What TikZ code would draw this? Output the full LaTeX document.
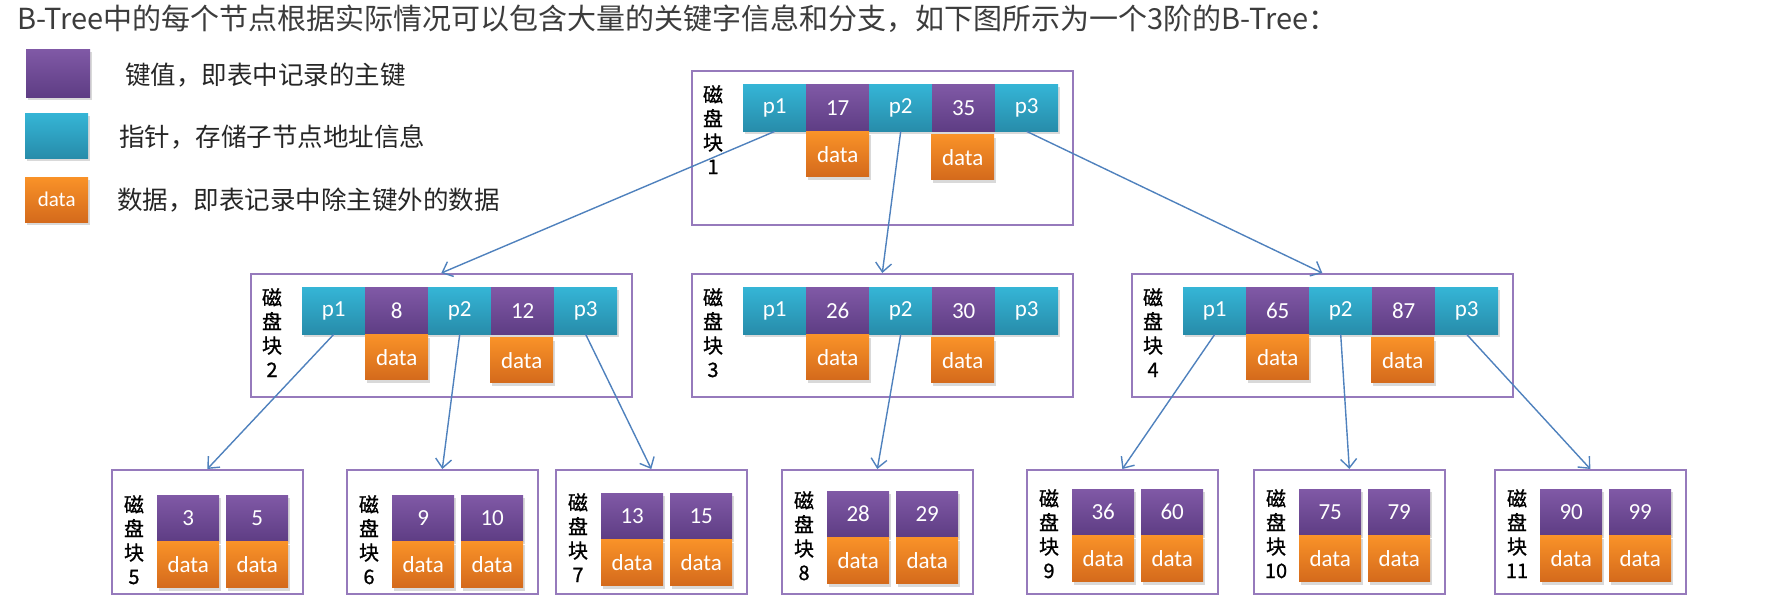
\documentclass[tikz,border=0pt]{standalone}
\usepackage{fontspec}
\setmainfont{Noto Sans CJK SC}
\newfontfamily\cellfont{Carlito}
\newfontface\labelfont{Noto Sans CJK SC}[FakeBold=1]
\usetikzlibrary{arrows.meta,shadows}

\definecolor{keytop}{RGB}{128,89,166}
\definecolor{keybot}{RGB}{94,61,132}
\definecolor{ptrtop}{RGB}{53,181,214}
\definecolor{ptrbot}{RGB}{39,140,170}
\definecolor{dattop}{RGB}{249,146,40}
\definecolor{datbot}{RGB}{212,106,28}
\definecolor{framecol}{RGB}{150,122,188}
\definecolor{linkcol}{RGB}{79,129,189}
\definecolor{titlecol}{RGB}{60,60,60}

\begin{document}
\begin{tikzpicture}[x=1pt,y=-1pt,
  cell/.style={inner sep=0pt, anchor=north west, minimum width=63pt, minimum height=47pt,
    text=white, font=\cellfont\fontsize{23}{26}\selectfont,
    drop shadow={opacity=0.3, shadow xshift=2pt, shadow yshift=-3pt}},
  keycell/.style={cell, top color=keytop, bottom color=keybot},
  ptrcell/.style={cell, top color=ptrtop, bottom color=ptrbot},
  datacell/.style={cell, top color=dattop, bottom color=datbot, minimum height=45pt},
  diskbox/.style={draw=framecol, line width=1.6pt, anchor=north west, inner sep=0pt},
  disklabel/.style={anchor=north, align=center, inner sep=0pt, font=\labelfont\fontsize{20}{24}\selectfont},
  legtext/.style={anchor=west, inner sep=0pt, text=black!85, font=\fontsize{25.5}{28}\selectfont},
  link/.style={draw=linkcol, line width=1.4pt, -{Straight Barb[length=9pt,width=16pt]}}
]
  \useasboundingbox (0,0) rectangle (1776,615);

  \node[anchor=base west, inner sep=0pt, text=titlecol, font=\fontsize{29}{34}\selectfont] (title) at (17,30)
    {B-Tree中的每个节点根据实际情况可以包含大量的关键字信息和分支，如下图所示为一个3阶的B-Tree：};

  % legend
  \node[keycell, minimum width=64pt, minimum height=48pt] (legkey) at (26,49) {};
  \node[ptrcell, minimum width=63pt, minimum height=45pt] (legptr) at (25,113) {};
  \node[datacell, minimum width=63pt, minimum height=45pt, font=\cellfont\fontsize{21}{24}\selectfont] (legdat) at (25,177) {data};
  \node[legtext] (legkeytxt) at (125,75) {键值，即表中记录的主键};
  \node[legtext] (legptrtxt) at (119,137) {指针，存储子节点地址信息};
  \node[legtext] (legdattxt) at (117,200) {数据，即表记录中除主键外的数据};

  % disk blocks with pointers
  \foreach \id/\x/\y/\h/\ka/\kb in {1/691/70/154/17/35, 2/250/273/123/8/12, 3/691/273/123/26/30, 4/1131/273/123/65/87}{
    \node[diskbox, minimum width=381pt, minimum height=\h pt] (blk\id) at (\x,\y) {};
    \node[disklabel] (lab\id) at (\x+22,\y+15) {磁\\盘\\块\\\id};
    \node[ptrcell] (b\id-p1) at (\x+52,\y+14) {p1};
    \node[keycell] (b\id-k1) at (\x+115,\y+14) {\ka};
    \node[ptrcell] (b\id-p2) at (\x+178,\y+14) {p2};
    \node[keycell] (b\id-k2) at (\x+241,\y+14) {\kb};
    \node[ptrcell] (b\id-p3) at (\x+304,\y+14) {p3};
    \node[datacell, anchor=north] (b\id-d1) at (b\id-k1.south) {data};
    \node[datacell, anchor=north] (b\id-d2) at ([xshift=-1pt,yshift=-3pt]b\id-k2.south) {data};
  }

  % leaf blocks
  \foreach \id/\x/\y/\ka/\kb in {5/111/495/3/5, 6/346/495/9/10, 7/555/493/13/15, 8/781/491/28/29,
      9/1026/489/36/60, 10/1253/489/75/79, 11/1494/489/90/99}{
    \node[diskbox, minimum width=191pt, minimum height=124pt] (blk\id) at (\x,469) {};
    \node[disklabel] (lab\id) at (\x+23,\y) {磁\\盘\\块\\\id};
    \node[keycell, minimum width=62pt, minimum height=46pt] (b\id-k1) at (\x+46,\y) {\ka};
    \node[keycell, minimum width=62pt, minimum height=46pt] (b\id-k2) at (\x+115,\y) {\kb};
    \node[datacell, anchor=north, minimum width=62pt, minimum height=46pt] (b\id-d1) at (b\id-k1.south) {data};
    \node[datacell, anchor=north, minimum width=62pt, minimum height=46pt] (b\id-d2) at (b\id-k2.south) {data};
  }

  \draw[link] (b1-p1.south) -- (blk2.north);
  \draw[link] (b1-p2.south) -- (blk3.north);
  \draw[link] (b1-p3.south) -- (blk4.north);
  \draw[link] (b2-p1.south) -- (blk5.north);
  \draw[link] (b2-p2.south) -- (blk6.north);
  \draw[link] (b2-p3.south) -- (blk7.north);
  \draw[link] (b3-p2.south) -- (blk8.north);
  \draw[link] (b4-p1.south) -- (blk9.north);
  \draw[link] (b4-p2.south) -- (blk10.north);
  \draw[link] (b4-p3.south) -- (blk11.north);
\end{tikzpicture}
\end{document}
